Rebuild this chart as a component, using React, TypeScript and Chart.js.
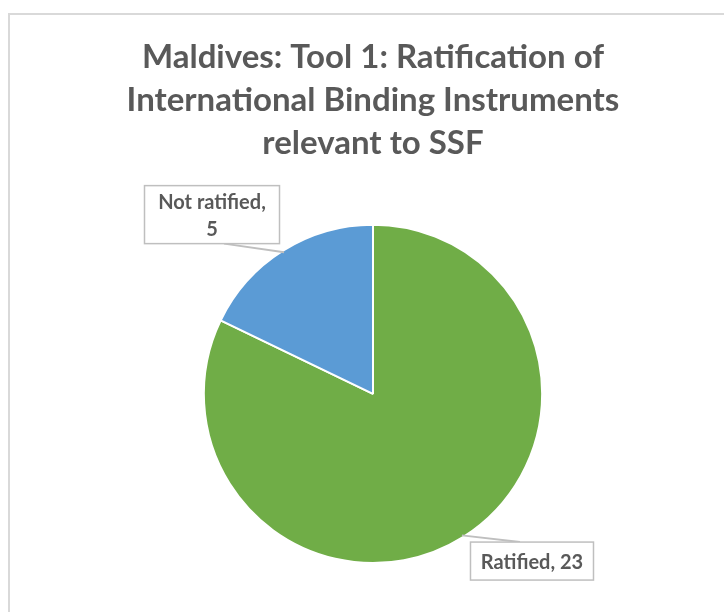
import React, { useEffect, useRef } from "react";
import { Chart, registerables } from "chart.js";

Chart.register(...registerables);

const categories = ["Ratified", "Not ratified"];
const values = [23, 5];
const colors = ["#70AD47", "#5B9BD5"];
const titleLines = [
  "Maldives: Tool 1: Ratification of",
  "International Binding Instruments",
  "relevant to SSF",
];

const FONT = "Lato, 'Open Sans', sans-serif";
const TEXT_COLOR = "#595959";

// callout placement relative to the slice's outer edge midpoint
const calloutStyle = [
  { dx: 69, dy: 24, width: 123, height: 38, maxTextWidth: 118 },
  { dx: -71, dy: -36, width: 135, height: 58, maxTextWidth: 118 },
];

const framePlugin = {
  id: "frame",
  beforeDraw(chart: any) {
    const ctx = chart.ctx;
    ctx.save();
    ctx.fillStyle = "#ffffff";
    ctx.fillRect(0, 0, chart.width, chart.height);
    ctx.strokeStyle = "#D9D9D9";
    ctx.lineWidth = 2;
    ctx.beginPath();
    ctx.moveTo(9, chart.height + 2);
    ctx.lineTo(9, 14);
    ctx.lineTo(chart.width + 2, 14);
    ctx.stroke();
    ctx.restore();
  },
};

const calloutPlugin = {
  id: "callouts",
  afterDatasetsDraw(chart: any) {
    const ctx = chart.ctx;
    const meta = chart.getDatasetMeta(0);
    const data = chart.data.datasets[0].data;
    ctx.save();
    ctx.font = `bold 20px ${FONT}`;
    meta.data.forEach((arc: any, i: number) => {
      const st = calloutStyle[i];
      const { x, y, startAngle, endAngle, outerRadius } = arc.getProps(
        ["x", "y", "startAngle", "endAngle", "outerRadius"],
        true
      );
      const mid = (startAngle + endAngle) / 2;
      const ex = x + Math.cos(mid) * outerRadius;
      const ey = y + Math.sin(mid) * outerRadius;
      const cx = ex + st.dx;
      const cy = ey + st.dy;
      const left = cx - st.width / 2;
      const top = cy - st.height / 2;
      const full = `${chart.data.labels[i]}, ${data[i]}`;
      let lines = [full];
      if (ctx.measureText(full).width > st.maxTextWidth) {
        lines = [`${chart.data.labels[i]},`, `${data[i]}`];
      }
      // leader line
      const targetY = st.dy > 0 ? top : top + st.height;
      const targetX = st.dy > 0 ? cx - 12 : cx + 12;
      ctx.strokeStyle = "#BFBFBF";
      ctx.lineWidth = 2;
      ctx.beginPath();
      ctx.moveTo(ex - 2 * Math.cos(mid), ey - 2 * Math.sin(mid));
      ctx.lineTo(targetX, targetY);
      ctx.stroke();
      // box
      ctx.fillStyle = "#ffffff";
      ctx.fillRect(left, top, st.width, st.height);
      ctx.strokeStyle = "#BFBFBF";
      ctx.lineWidth = 1.5;
      ctx.strokeRect(left, top, st.width, st.height);
      // text
      ctx.fillStyle = TEXT_COLOR;
      ctx.textAlign = "center";
      ctx.textBaseline = "middle";
      const lh = 27;
      const startY = cy - ((lines.length - 1) * lh) / 2;
      lines.forEach((ln, k) => ctx.fillText(ln, cx, startY + k * lh + 1));
    });
    ctx.restore();
  },
};

export default function App() {
  const ref = useRef<HTMLCanvasElement | null>(null);
  useEffect(() => {
    if (!ref.current) return;
    const chart = new Chart(ref.current, {
      type: "pie",
      data: {
        labels: categories,
        datasets: [
          {
            data: values,
            backgroundColor: colors,
            borderColor: "#ffffff",
            borderWidth: 2,
          },
        ],
      },
      options: {
        responsive: false,
        animation: false,
        layout: { padding: { left: 22, right: 0, top: 0, bottom: 48 } },
        plugins: {
          legend: { display: false },
          tooltip: { enabled: false },
          title: {
            display: true,
            text: titleLines,
            color: TEXT_COLOR,
            font: { family: FONT, size: 33, weight: "bold", lineHeight: 1.3 },
            padding: { top: 36, bottom: 59 },
          },
        },
      },
      plugins: [framePlugin, calloutPlugin],
    });
    return () => chart.destroy();
  }, []);
  return (
    <div style={{ position: "fixed", left: 0, top: 0, width: 724, height: 612 }}>
      <canvas ref={ref} width={724} height={612} style={{ display: "block" }} />
    </div>
  );
}
